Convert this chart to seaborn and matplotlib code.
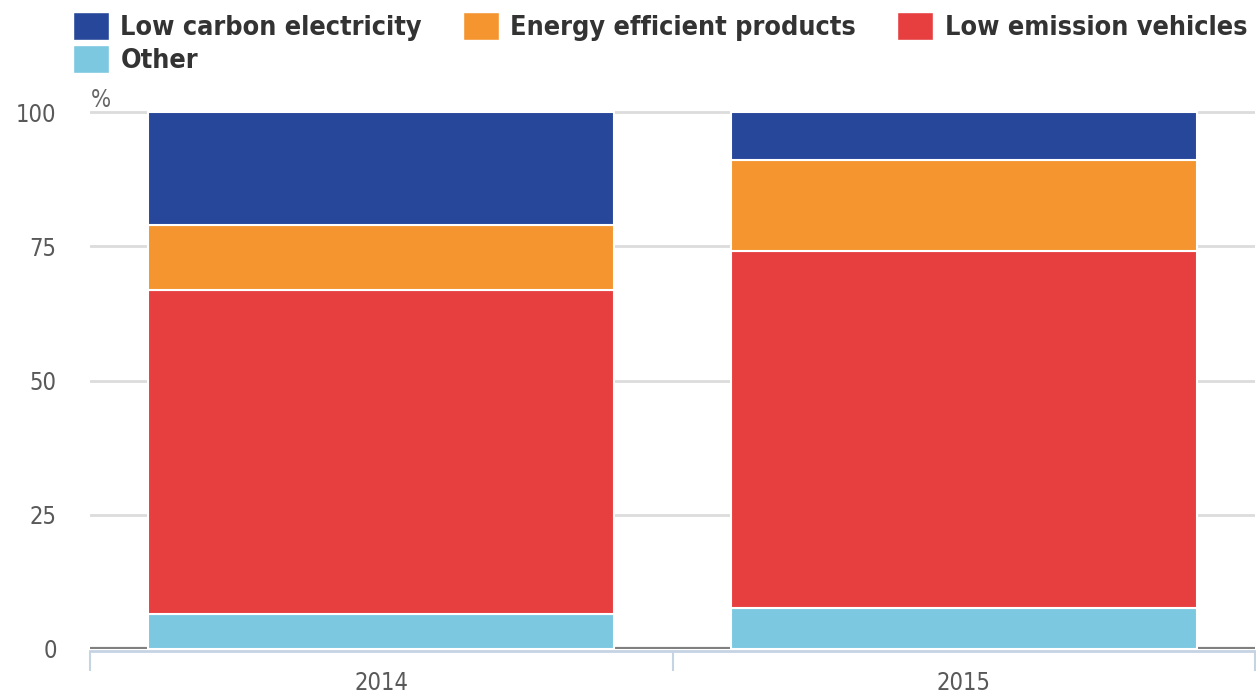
import matplotlib
matplotlib.use("Agg")
import matplotlib.pyplot as plt
from matplotlib.patches import Patch
import numpy as np
import pandas as pd
import seaborn as sns

# Share of spending by category, per year (%)
years = ["2014", "2015"]
other = [6.5, 7.7]
low_emission_vehicles = [60.3, 66.5]
energy_efficient_products = [12.2, 16.8]
low_carbon_electricity = [21.0, 9.0]
y_ticks = [0, 25, 50, 75, 100]

series_names = ["Other", "Low emission vehicles", "Energy efficient products", "Low carbon electricity"]
series_values = [other, low_emission_vehicles, energy_efficient_products, low_carbon_electricity]
colors = {
    "Low carbon electricity": "#27479a",
    "Energy efficient products": "#f4952f",
    "Low emission vehicles": "#e73f40",
    "Other": "#7dc8e1",
}

sns.set_theme(style="white")
plt.rcParams["font.family"] = ["DejaVu Sans Condensed", "DejaVu Sans"]
plt.rcParams["font.stretch"] = "condensed"

W, H = 1256, 693
fig = plt.figure(figsize=(W / 100, H / 100), dpi=100)

y0_px = 649.0
px_per_unit = 5.37
ymax = 100.6
ax = fig.add_axes([90 / W, (H - y0_px) / H, (1255 - 90) / W, ymax * px_per_unit / H])

df = pd.DataFrame({"year": years})
for name, vals in zip(series_names, series_values):
    df[name] = vals

# stacked bars, bottom to top
bottom = np.zeros(len(years))
for name, vals in zip(series_names, series_values):
    sns.barplot(data=df, x="year", y=name, color=colors[name], saturation=1,
                bottom=bottom, width=0.8, edgecolor="white", linewidth=1.5,
                errorbar=None, ax=ax, zorder=3)
    bottom = bottom + np.asarray(vals, dtype=float)

ax.set_xlim(-0.5, 1.5)
ax.set_ylim(0, ymax)
ax.set_xlabel("")
ax.set_ylabel("")
ax.set_yticks(y_ticks)
ax.set_yticklabels([str(t) for t in y_ticks])

ax.yaxis.grid(True, color="#dcdcdc", linewidth=2)
ax.set_axisbelow(True)
ax.axhline(0, color="#808080", linewidth=3, zorder=2)

for side in ["left", "top", "right"]:
    ax.spines[side].set_visible(False)
ax.spines["bottom"].set_color("#c5d3e3")
ax.spines["bottom"].set_linewidth(2)
ax.spines["bottom"].set_position(("outward", 1.6))

ax.tick_params(axis="x", which="major", bottom=True, length=0, pad=14, labelsize=17, labelcolor="#595959")
ax.set_xticks([-0.5, 0.5, 1.5], minor=True)
ax.tick_params(axis="x", which="minor", bottom=True, length=14.5, width=1.5, color="#c5d3e3", direction="out")
ax.tick_params(axis="y", length=0, pad=24, labelsize=17, labelcolor="#595959")

fig.text(91 / W, 1 - 100 / H, "%", ha="left", va="center", color="#666666", fontsize=17)

handles = [
    Patch(facecolor=colors["Low carbon electricity"], label="Low carbon electricity"),
    Patch(facecolor=colors["Other"], label="Other"),
    Patch(facecolor=colors["Energy efficient products"], label="Energy efficient products"),
    Patch(facecolor=colors["Low emission vehicles"], label="Low emission vehicles"),
]
leg = fig.legend(handles=handles, ncol=3, loc="upper left",
                 bbox_to_anchor=(73 / W, 1 - 12 / H), frameon=False,
                 prop=dict(weight="bold", size=19.4),
                 handlelength=1.34, handleheight=1.25, handletextpad=0.42,
                 columnspacing=1.52, labelspacing=0.12, borderpad=0, borderaxespad=0)
for t in leg.get_texts():
    t.set_color("#333333")

fig.savefig("out.png", dpi=100)
